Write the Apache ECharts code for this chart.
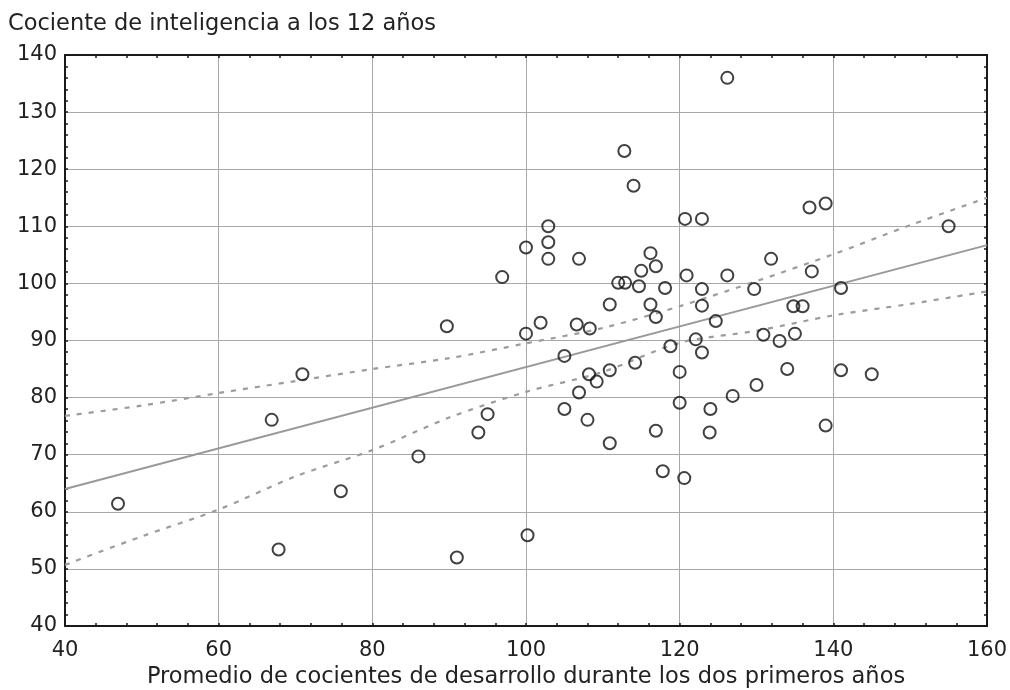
<!DOCTYPE html>
<html>
<head>
<meta charset="utf-8">
<script src="https://cdn.jsdelivr.net/npm/echarts@6/dist/echarts.min.js"></script>
<style>html,body{margin:0;padding:0;background:#fff}#c{width:1010px;height:690px}</style>
</head>
<body>
<div id="c"></div>
<script>
// Scatter data: developmental quotient (x) vs IQ at 12 (y)
const devQuotient = [46.9,66.9,67.8,70.9,75.9,86.0,89.7,91.0,93.8,95.0,96.9,100.0,100.0,100.2,101.9,102.9,102.9,102.9,105.0,105.0,106.9,106.6,106.9,108.3,108.2,108.0,109.2,110.9,110.9,110.9,112.0,112.9,112.8,114.0,114.2,114.7,115.0,116.2,116.2,116.9,116.9,116.9,118.1,117.8,118.8,120.0,120.0,120.7,120.9,120.6,122.1,122.9,122.9,122.9,122.9,124.0,123.9,124.7,126.2,126.2,126.9,129.7,130.0,130.9,131.9,133.0,134.0,134.8,136.0,135.0,136.9,137.2,139.0,139.0,141.0,141.0,145.0,155.0];
const iq12 = [61.4,76.1,53.4,84.1,63.6,69.7,92.5,52.0,73.9,77.1,101.1,106.3,91.2,55.9,93.1,110.0,107.2,104.3,87.3,78.0,104.3,92.8,80.9,92.1,84.1,76.1,82.8,96.3,84.8,72.0,100.1,100.1,123.2,117.1,86.1,99.5,102.2,105.3,96.3,103.0,94.1,74.2,99.2,67.1,89.0,84.5,79.1,111.3,101.4,65.9,90.2,111.3,99.0,96.1,87.9,78.0,73.9,93.4,136.0,101.4,80.3,99.0,82.2,91.0,104.3,89.9,85.0,96.0,96.0,91.2,113.3,102.1,114.0,75.1,99.2,84.8,84.1,110.0];
// Regression line
const fitX = [40, 160];
const fitY = [64.0, 106.7];
// Confidence band
const bandX = [40,50,60,70,80,90,100,110,120,130,140,150,160];
const bandUpper = [76.8,78.6,80.8,82.9,85.0,86.9,89.5,92.2,96.0,100.4,105.1,110.2,115.0];
const bandLower = [50.7,55.7,60.4,66.2,70.8,76.5,81.0,84.5,89.6,91.7,94.4,96.4,98.6];
// Axis ticks
const xTicks = {min: 40, max: 160, step: 20};
const yTicks = {min: 40, max: 140, step: 10};
const titleText = 'Cociente de inteligencia a los 12 años';
const xName = 'Promedio de cocientes de desarrollo durante los dos primeros años';

const font = 'DejaVu Sans';
const pts = devQuotient.map((x, i) => [x, iq12[i]]);
const fitPts = fitX.map((x, i) => [x, fitY[i]]);
const upPts = bandX.map((x, i) => [x, bandUpper[i]]);
const loPts = bandX.map((x, i) => [x, bandLower[i]]);

const frameLine = {show: true, lineStyle: {color: '#1a1a1a', width: 2}};
const tickIn = {show: true, inside: true, length: 3, lineStyle: {color: '#1a1a1a', width: 1.5}};
const minorIn = {show: true, splitNumber: 5, length: 3, lineStyle: {color: '#1a1a1a', width: 1.5}};

const chart = echarts.init(document.getElementById('c'), null, {renderer: 'canvas'});
chart.setOption({
  backgroundColor: '#fff',
  animation: false,
  title: {text: titleText, left: 3, top: 8, textStyle: {fontFamily: font, fontSize: 22.5, fontWeight: 'normal', color: '#222'}},
  grid: {left: 65, right: 23, top: 55, bottom: 64, outerBoundsMode: 'none', containLabel: false},
  xAxis: [{
    type: 'value', min: xTicks.min, max: xTicks.max, interval: xTicks.step, position: 'bottom',
    name: xName, nameLocation: 'middle', nameGap: 40,
    nameTextStyle: {fontFamily: font, fontSize: 22.5, color: '#222'},
    axisLine: frameLine, axisTick: tickIn, minorTick: minorIn,
    axisLabel: {fontFamily: font, fontSize: 21, color: '#222', margin: 14},
    splitLine: {show: true, lineStyle: {color: '#a8a8a8', width: 1}}
  }, {
    type: 'value', min: xTicks.min, max: xTicks.max, interval: xTicks.step, position: 'top',
    axisLine: frameLine, axisTick: tickIn, minorTick: minorIn,
    axisLabel: {show: false}, splitLine: {show: false}
  }],
  yAxis: [{
    type: 'value', min: yTicks.min, max: yTicks.max, interval: yTicks.step, position: 'left',
    axisLine: frameLine, axisTick: tickIn, minorTick: minorIn,
    axisLabel: {fontFamily: font, fontSize: 21, color: '#222', margin: 8},
    splitLine: {show: true, lineStyle: {color: '#a8a8a8', width: 1}}
  }, {
    type: 'value', min: yTicks.min, max: yTicks.max, interval: yTicks.step, position: 'right',
    axisLine: frameLine, axisTick: tickIn, minorTick: minorIn,
    axisLabel: {show: false}, splitLine: {show: false}
  }],
  series: [
    {type: 'line', data: upPts, xAxisIndex: 0, yAxisIndex: 0, smooth: 0.3, symbol: 'none',
     lineStyle: {color: '#9c9c9c', width: 2.2, type: [5, 7]}, z: 2},
    {type: 'line', data: loPts, xAxisIndex: 0, yAxisIndex: 0, smooth: 0.3, symbol: 'none',
     lineStyle: {color: '#9c9c9c', width: 2.2, type: [5, 7]}, z: 2},
    {type: 'line', data: fitPts, xAxisIndex: 0, yAxisIndex: 0, symbol: 'none',
     lineStyle: {color: '#999', width: 2}, z: 2},
    {type: 'scatter', data: pts, xAxisIndex: 0, yAxisIndex: 0, symbol: 'circle', symbolSize: 12,
     itemStyle: {color: 'rgba(255,255,255,0)', borderColor: '#111', borderWidth: 2}, z: 3}
  ]
});
</script>
</body>
</html>
